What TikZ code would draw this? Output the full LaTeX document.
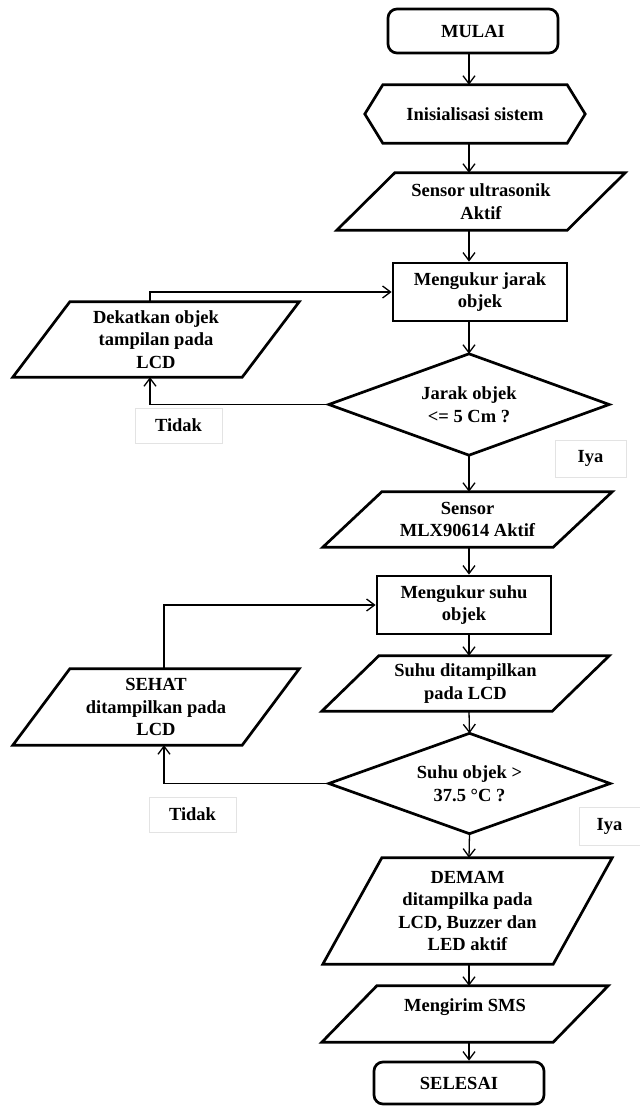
\documentclass[tikz,border=0pt]{standalone}
\usepackage{fontspec}
\setmainfont{Liberation Serif}
\usetikzlibrary{arrows.meta}
\newcommand\ioshape[2]{\draw[outline] ([xshift=#2]#1.north west) -- (#1.north east) -- ([xshift=-#2]#1.south east) -- (#1.south west) -- cycle;}
\newcommand\diashape[1]{\draw[outline] (#1.north) -- (#1.east) -- (#1.south) -- (#1.west) -- cycle;}
\begin{document}
\begin{tikzpicture}[x=1pt,y=-1pt,
  every node/.style={inner sep=0pt, font=\fontsize{18.5}{22.5}\selectfont\bfseries, align=center},
  outline/.style={line width=2.7pt, line join=miter},
  term/.style={draw, line width=2.7pt, rounded corners=9pt, minimum width=170pt, minimum height=44pt},
  proc/.style={draw, line width=2.7pt, minimum width=174pt, minimum height=58pt},
  plainbox/.style={draw=none},
  lbl/.style={draw=gray!22, line width=0.8pt, minimum width=87pt, minimum height=35pt},
  arr/.style={line width=1.3pt, -{Straight Barb[length=8pt,width=12pt,line width=1.3pt]}}
]
\useasboundingbox (0,0) rectangle (640,1106);
\coordinate (ax) at (469,0);
\coordinate (l1) at (150,0);
\coordinate (l2) at (164,0);

\node[term] (mulai) at (473,31) {MULAI};
\node[plainbox, minimum width=220pt, minimum height=58pt] (init) at (475,114) {Inisialisasi sistem};
\node[plainbox, minimum width=288pt, minimum height=57pt] (sens1) at (481,201.5) {Sensor ultrasonik\\Aktif};
\node[proc] (ukur1) at (480,292) {Mengukur jarak\\objek};
\node[plainbox, minimum width=280pt, minimum height=101pt] (jarak) at (469,404.5) {Jarak objek\\<= 5 Cm ?};
\node[plainbox, minimum width=286pt, minimum height=75pt] (dekat) at (156,339.5) {Dekatkan objek\\tampilan pada\\LCD};
\node[lbl] (tidak1) at (178.5,425.5) {Tidak};
\node[lbl, minimum width=71pt, minimum height=37pt] (iya1) at (590.5,458.5) {Iya};
\node[plainbox, minimum width=289pt, minimum height=55pt] (sens2) at (467.5,519.5) {Sensor\\MLX90614 Aktif};
\node[proc] (ukur2) at (464,605) {Mengukur suhu\\objek};
\node[plainbox, minimum width=287pt, minimum height=55pt] (suhu) at (465.5,683.5) {Suhu ditampilkan\\pada LCD};
\node[plainbox, minimum width=286pt, minimum height=76pt] (sehat) at (156,707) {SEHAT\\ditampilkan pada\\LCD};
\node[plainbox, minimum width=281pt, minimum height=100pt] (suhuobj) at (469.5,783.5) {Suhu objek >\\37.5 °C ?};
\node[lbl] (tidak2) at (192.5,814.5) {Tidak};
\node[lbl, minimum width=61pt, minimum height=38pt] (iya2) at (609.5,826) {Iya};
\node[plainbox, minimum width=289pt, minimum height=106pt] (demam) at (467.5,911) {DEMAM\\ditampilka pada\\LCD, Buzzer dan\\LED aktif};
\node[plainbox, minimum width=286pt, minimum height=56pt, text depth=18pt] (sms) at (465,1014) {Mengirim SMS};
\node[term, minimum height=42pt] (selesai) at (459,1083) {SELESAI};

% outlines
\draw[outline] ([xshift=18pt]init.north west) -- ([xshift=-18pt]init.north east) -- (init.east) -- ([xshift=-18pt]init.south east) -- ([xshift=18pt]init.south west) -- (init.west) -- cycle;
\ioshape{sens1}{58pt}
\ioshape{dekat}{57pt}
\ioshape{sens2}{59pt}
\ioshape{suhu}{57pt}
\ioshape{sehat}{57pt}
\ioshape{demam}{59pt}
\ioshape{sms}{55pt}
\diashape{jarak}
\diashape{suhuobj}

% connectors
\draw[arr] (mulai.south -| ax) -- (init.north -| ax);
\draw[arr] (init.south -| ax) -- (sens1.north -| ax);
\draw[arr] (sens1.south -| ax) -- (ukur1.north -| ax);
\draw[arr] (ukur1.south -| ax) -- (jarak.north);
\draw[arr] (jarak.south) -- (sens2.north -| ax);
\draw[arr] (jarak.west) -| (dekat.south -| l1);
\draw[arr] (dekat.north -| l1) |- (ukur1.west);
\draw[arr] (sens2.south -| ax) -- (ukur2.north -| ax);
\draw[arr] (ukur2.south -| ax) -- (suhu.north -| ax);
\draw[arr] (suhu.south -| ax) -- (suhuobj.north);
\draw[arr] (suhuobj.west) -| (sehat.south -| l2);
\draw[arr] (sehat.north -| l2) |- (ukur2.west);
\draw[arr] (suhuobj.south) -- (demam.north -| ax);
\draw[arr] (demam.south -| ax) -- (sms.north -| ax);
\draw[arr] (sms.south -| ax) -- (selesai.north -| ax);
\end{tikzpicture}
\end{document}
